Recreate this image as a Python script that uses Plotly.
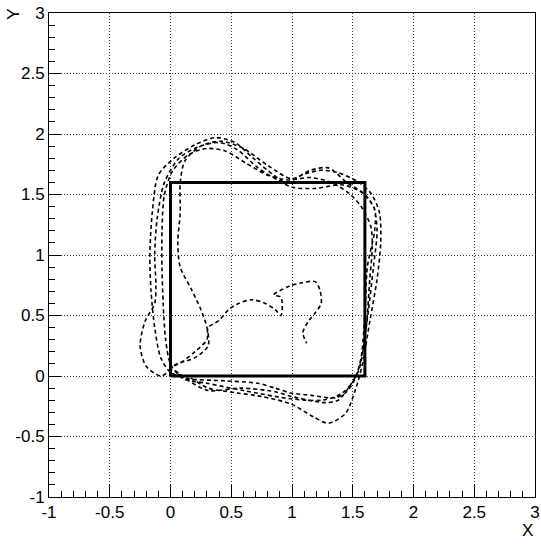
import plotly.graph_objects as go

# Square (reference track)
square_x = [0, 1.6, 1.6, 0, 0]
square_y = [0, 0, 1.6, 1.6, 0]

# Tick values / labels
tick_vals = [-1, -0.5, 0, 0.5, 1, 1.5, 2, 2.5, 3]
tick_text = ["-1", "-0.5", "0", "0.5", "1", "1.5", "2", "2.5", "3"]

# Trajectory waypoints
loop1 = [(0.0,0.02),(0.15,-0.01),(0.31,-0.10),(0.55,-0.14),(0.75,-0.17),(0.99,-0.23),(1.18,-0.34),(1.3,-0.39),
         (1.44,-0.31),(1.52,-0.12),(1.58,0.1),(1.64,0.45),(1.70,0.8),(1.73,1.1),(1.72,1.35),(1.65,1.51),
         (1.55,1.6),(1.38,1.68),(1.24,1.70),(1.08,1.66),(0.95,1.60),(0.8,1.70),(0.67,1.81),(0.53,1.93),
         (0.37,1.97),(0.2,1.91),(0.03,1.8),(-0.1,1.66),(-0.15,1.35),(-0.17,1.0),(-0.16,0.7),(-0.13,0.4),
         (-0.08,0.15),(0.0,0.03)]
loop2 = [(0.13,-0.02),(0.45,-0.04),(0.72,-0.06),(0.86,-0.10),(0.99,-0.14),(1.16,-0.16),(1.36,-0.18),
         (1.45,-0.13),(1.52,-0.02),(1.58,0.2),(1.63,0.55),(1.67,0.9),(1.70,1.2),(1.67,1.4),(1.57,1.52),
         (1.41,1.58),(1.19,1.55),(1.0,1.56),(0.88,1.62),(0.72,1.72),(0.55,1.87),(0.4,1.93),(0.22,1.89),
         (0.07,1.8),(-0.05,1.6),(-0.11,1.3),(-0.13,1.0),(-0.12,0.75),(-0.13,0.6),(-0.21,0.45),(-0.25,0.25),
         (-0.2,0.08),(-0.08,0.0),(0.02,0.05)]
loop3 = [(0.15,-0.04),(0.31,-0.12),(0.58,-0.10),(0.86,-0.13),(1.0,-0.17),(1.27,-0.22),(1.38,-0.20),
         (1.47,-0.09),(1.55,0.05),(1.61,0.4),(1.64,0.8),(1.66,1.05),(1.65,1.23),(1.57,1.4),(1.47,1.51),
         (1.32,1.60),(1.15,1.64),(0.97,1.62),(0.8,1.66),(0.62,1.76),(0.45,1.86),(0.3,1.88),(0.15,1.83),
         (0.02,1.7),(-0.05,1.5),(-0.07,1.2),(-0.07,0.9),(-0.06,0.6),(-0.04,0.3),(0.0,0.1)]
loop4 = [(0.1,-0.02),(0.3,-0.06),(0.6,-0.12),(1.0,-0.19),(1.25,-0.20),(1.40,-0.15),(1.50,-0.05),(1.56,0.1),
         (1.6,0.5),(1.62,0.9),(1.68,1.2),(1.68,1.38),(1.6,1.5),(1.45,1.6),(1.3,1.72),(1.15,1.70),(1.0,1.63),
         (0.8,1.74),(0.6,1.88),(0.42,1.94),(0.25,1.9),(0.12,1.78),(0.08,1.6),(0.08,1.35),(0.06,1.1),(0.08,0.9),
         (0.17,0.72),(0.25,0.55),(0.3,0.4),(0.31,0.25),(0.2,0.15),(0.05,0.1),(0.02,0.08)]
wander = [(0.1,0.12),(0.2,0.2),(0.3,0.3),(0.31,0.40),(0.40,0.46),(0.48,0.55),(0.56,0.60),(0.67,0.63),
          (0.78,0.60),(0.86,0.55),(0.91,0.50),(0.91,0.65),(0.85,0.67),(0.97,0.74),(1.08,0.77),(1.19,0.78),
          (1.23,0.71),(1.24,0.60),(1.19,0.52),(1.14,0.46),(1.09,0.36),(1.12,0.27)]

path = loop1 + loop2 + loop3 + loop4 + wander
path_x = [p[0] for p in path]
path_y = [p[1] for p in path]

FONT = "Liberation Sans, Arial, Helvetica, sans-serif"

fig = go.Figure()
fig.add_trace(go.Scatter(x=path_x, y=path_y, mode="lines",
                         line=dict(color="black", width=1.6, dash="4px,3px", shape="spline", smoothing=0.8),
                         hoverinfo="skip"))
fig.add_trace(go.Scatter(x=square_x, y=square_y, mode="lines",
                         line=dict(color="black", width=3), hoverinfo="skip"))

axis_common = dict(
    range=[-1, 3], tickmode="array", tickvals=tick_vals, ticktext=tick_text, automargin=False,
    showgrid=True, gridcolor="#333", griddash="1px,2px", gridwidth=1,
    zeroline=False, showline=True, linecolor="black", linewidth=1, mirror=True,
    ticks="inside", ticklen=12, tickwidth=1, tickcolor="black",
    minor=dict(dtick=0.1, tick0=-1, ticks="inside", ticklen=6, tickwidth=1, tickcolor="black", showgrid=False),
    tickfont=dict(family=FONT, size=17, color="black"),
)
fig.update_xaxes(**axis_common)
fig.update_yaxes(**axis_common)

fig.update_layout(
    width=541, height=546, showlegend=False,
    margin=dict(l=49, r=6, t=13, b=49),
    plot_bgcolor="white", paper_bgcolor="white",
    font=dict(family=FONT),
    annotations=[
        dict(text="X", x=1.0, y=-0.045, xref="paper", yref="paper", xanchor="right", yanchor="top",
             showarrow=False, font=dict(family=FONT, size=17, color="black")),
        dict(text="Y", x=-0.072, y=1.012, xref="paper", yref="paper", xanchor="center", yanchor="top",
             textangle=-90, showarrow=False, font=dict(family=FONT, size=17, color="black")),
    ],
)

fig.write_html("out.html", config={"displayModeBar": False},
               post_script="document.body.style.margin='0';document.body.style.padding='0';"
                           "document.body.style.overflow='hidden';")
